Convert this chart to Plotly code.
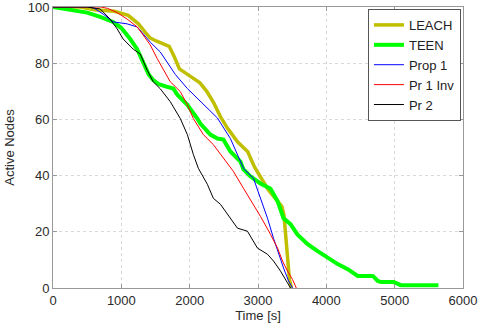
import plotly.graph_objects as go

# ---- data ----
leach_t = [0, 400, 600, 900, 1100, 1250, 1350, 1420, 1500, 1700, 1780, 1850, 2000, 2150, 2250,
           2350, 2450, 2550, 2700, 2850, 2950, 3050, 3150, 3250, 3350, 3380, 3400, 3430, 3460, 3490]
leach_n = [100, 100, 99, 98.5, 97, 94, 91, 89, 88, 86, 82, 78, 75.5, 73, 70,
           66, 61, 57, 52, 48.5, 43, 39, 35, 32, 29, 26, 20, 10, 3, 0]

teen_t = [0, 300, 500, 690, 880, 1000, 1085, 1130, 1232, 1320, 1400, 1467, 1550, 1672, 1760,
          1819, 1966, 2112, 2156, 2303, 2406, 2494, 2596, 2743, 2787, 2890, 3036, 3183, 3286,
          3374, 3476, 3579, 3726, 3873, 4019, 4166, 4313, 4459, 4680, 4753, 4800, 4987, 5090, 5640]
teen_n = [100, 99, 98, 96.5, 94.7, 92.5, 90, 88.6, 85, 80, 76, 74, 72.5, 71.6, 71,
          68.8, 65.2, 60.3, 58.5, 54.6, 53.2, 52.8, 48.6, 45, 42.2, 39.7, 37.2, 35.3, 30.9,
          24.8, 22.7, 19, 15.6, 13.1, 10.6, 8.5, 6.7, 4.3, 4.3, 2.5, 2.1, 2.1, 1, 1]

prop1_t = [0, 500, 600, 733, 880, 1085, 1232, 1320, 1423, 1570, 1672, 1790, 1966, 2156, 2406,
           2596, 2699, 2787, 2934, 3036, 3139, 3227, 3300, 3374, 3447, 3506]
prop1_n = [100, 100, 99.6, 97.5, 94.7, 94, 92.9, 90.5, 87.5, 84, 80.5, 76, 71, 66.5, 60.5,
           53.2, 47.5, 42.6, 39, 31.9, 24.8, 17.7, 12, 7.1, 2.5, 0]

pr1inv_t = [0, 700, 800, 940, 1085, 1232, 1320, 1423, 1526, 1614, 1716, 1863, 1966, 2054, 2200,
            2347, 2494, 2640, 2787, 2934, 3036, 3183, 3286, 3359, 3432, 3506, 3560]
pr1inv_n = [100, 100, 99.5, 98, 95.7, 92.9, 90, 86.5, 81.6, 78, 73.4, 69.9, 65.2, 60.3, 54.6,
            51, 46.1, 41.5, 35.5, 29.8, 25.5, 19.1, 14.2, 9.6, 6, 3, 0]

pr2_t = [0, 500, 690, 836, 939, 1027, 1174, 1276, 1379, 1467, 1570, 1716, 1863, 1966, 2054,
         2127, 2259, 2347, 2450, 2596, 2699, 2846, 2992, 3139, 3227, 3330, 3403, 3476]
pr2_n = [100, 100, 99.3, 95.7, 92.2, 88.6, 85, 83.3, 77.5, 73.4, 70.9, 66.3, 60.3, 54.6, 47.5,
         42.6, 36.9, 31.9, 29.8, 24.8, 21.3, 20.2, 14.2, 12, 9.6, 6, 3.2, 0]

x_ticks = [0, 1000, 2000, 3000, 4000, 5000, 6000]
y_ticks = [0, 20, 40, 60, 80, 100]

series = [
    ("LEACH", leach_t, leach_n, "#BFBF00", 3.5),
    ("TEEN", teen_t, teen_n, "#00FF00", 4),
    ("Prop 1", prop1_t, prop1_n, "#0000FF", 1),
    ("Pr 1 Inv", pr1inv_t, pr1inv_n, "#FF0000", 1),
    ("Pr 2", pr2_t, pr2_n, "#000000", 1),
]

fig = go.Figure()
for name, t, n, c, w in series:
    fig.add_trace(go.Scatter(x=t, y=n, mode="lines", name=name,
                             line=dict(color=c, width=w)))

font_family = "Liberation Sans, Arial, Helvetica, sans-serif"
axis_common = dict(
    showline=True, linecolor="#999999", linewidth=1, mirror="ticks",
    ticks="inside", ticklen=4, tickcolor="#999999",
    showgrid=True, gridcolor="#d9d9d9", griddash="dot", gridwidth=1,
    zeroline=False, ticklabeloverflow="allow",
    tickfont=dict(size=13, color="#2a2a2a", family=font_family),
)

fig.update_layout(
    width=480, height=323,
    margin=dict(l=53, r=17, t=7, b=35),
    paper_bgcolor="white", plot_bgcolor="white",
    font=dict(family=font_family, size=13, color="#2a2a2a"),
    xaxis=dict(range=[0, 6000], tickvals=x_ticks, ticktext=[str(v) for v in x_ticks],
               title=dict(text="Time [s]", standoff=2, font=dict(size=13)),
               automargin=False, **axis_common),
    yaxis=dict(range=[0, 100], tickvals=y_ticks, ticktext=[str(v) for v in y_ticks],
               title=dict(text="Active Nodes", standoff=10, font=dict(size=13)),
               automargin=False, **axis_common),
    legend=dict(x=0.995, y=0.993, xanchor="right", yanchor="top",
                bordercolor="#555555", borderwidth=1, bgcolor="white",
                font=dict(size=13, color="#222222"), tracegroupgap=0,
                itemwidth=30),
    showlegend=True,
)

fig.write_html("out.html")
